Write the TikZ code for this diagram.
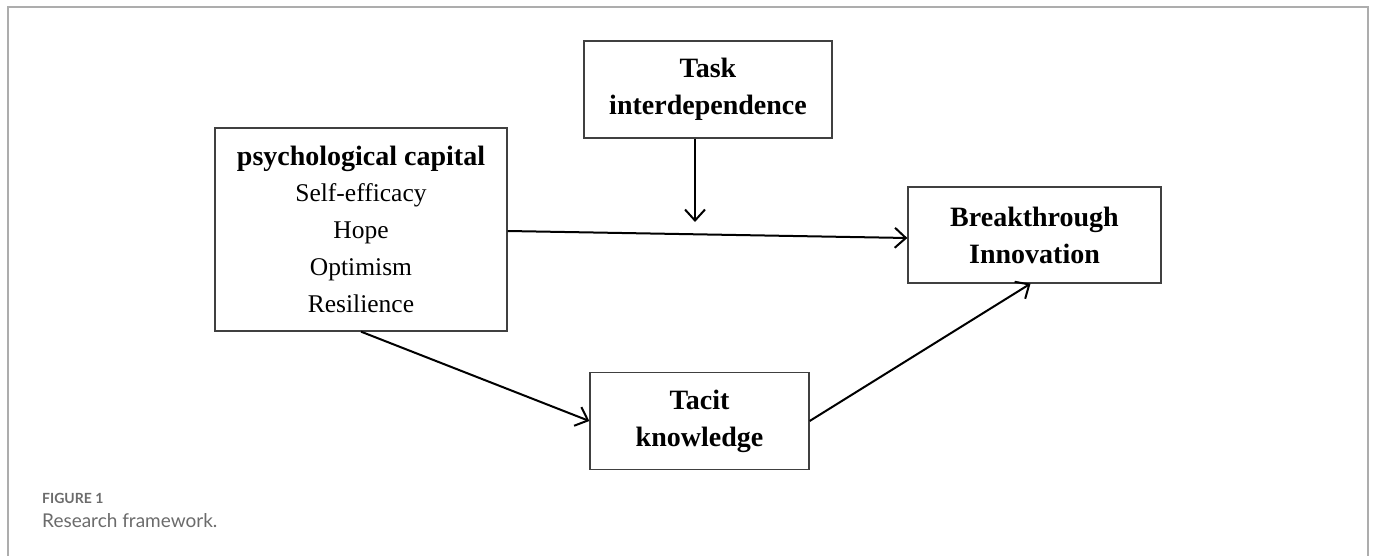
\documentclass[tikz,border=0pt]{standalone}
\usepackage{fontspec}
\setmainfont{Liberation Serif}
\newfontfamily\capfont{Lato}
\usetikzlibrary{arrows.meta}
\newcommand{\dimtxt}{\mdseries\fontsize{25.5}{36}\selectfont}
\tikzset{
  varbox/.style={draw=black!75, line width=1.3pt, align=center, inner sep=0pt,
    font=\fontsize{28}{37}\selectfont\bfseries},
  link/.style={line width=2pt, -{Straight Barb[length=11pt,width=20pt,line width=2pt]}}
}
\begin{document}
\begin{tikzpicture}[x=1pt, y=-1pt]
            \useasboundingbox (0,0) rectangle (1375,556);
            \draw[black!32, line width=1.6pt] (8,556) -- (8,7) -- (1368,7) -- (1368,556);
            \node[varbox, minimum width=292pt, minimum height=203pt] (psy) at (361,229.5)
              {psychological capital\\[-1pt]
               \dimtxt Self-efficacy\\\dimtxt Hope\\\dimtxt Optimism\\\dimtxt Resilience};
            \node[varbox, minimum width=248pt, minimum height=97pt] (task) at (708,89.5)
              {Task\\interdependence};
            \node[varbox, minimum width=253pt, minimum height=96pt] (bti) at (1034.5,235)
              {Breakthrough\\Innovation};
            \node[varbox, minimum width=219pt, minimum height=97pt] (tk) at (699.5,421)
              {Tacit\\knowledge};
            \coordinate (mod) at (695,222);
            \draw[link] ([yshift=-1.5pt]psy.east) -- ([yshift=-3pt]bti.west);
            \draw[link] ([xshift=-13pt]task.south) -- (mod);
            \draw[link] (psy.south) -- (tk.west);
            \draw[link] (tk.east) -- ([xshift=-4pt]bti.south);
            \node[anchor=base west, inner sep=0pt, text=black!58] (fig) at (42,503)
              {\capfont\bfseries\fontsize{14}{16}\selectfont FIGURE 1};
            \node[anchor=base west, inner sep=0pt, text=black!58] (cap) at (42,527)
              {\capfont\fontsize{19}{22}\selectfont Research framework.};
\end{tikzpicture}
\end{document}
